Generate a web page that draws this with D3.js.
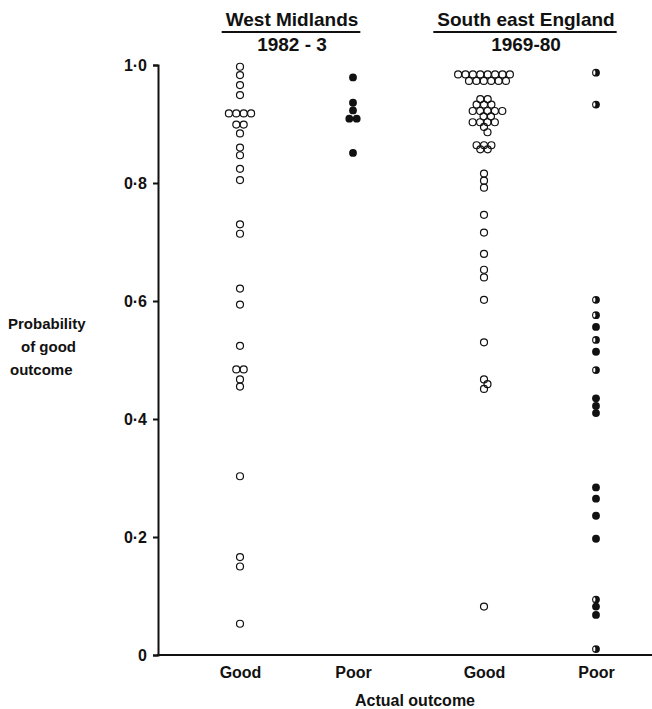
<!DOCTYPE html>
<html>
<head>
<meta charset="utf-8">
<script src="https://cdnjs.cloudflare.com/ajax/libs/d3/7.8.5/d3.min.js"></script>
<style>
body { margin: 0; background: #fff; }
text { font-family: "Liberation Sans", Arial, sans-serif; font-weight: bold; fill: #111; }
</style>
</head>
<body>
<div id="chart"></div>
<script>
var groups = ["wmGood", "wmPoor", "seGood", "sePoor"];
var groupLabels = ["Good", "Poor", "Good", "Poor"];
var yTicks = [0, 0.2, 0.4, 0.6, 0.8, 1.0];

// West Midlands 1982-3
var wmGood = [0.997, 0.983, 0.966, 0.949, 0.918, 0.918, 0.918, 0.918, 0.899, 0.899,
              0.884, 0.860, 0.847, 0.824, 0.805, 0.730, 0.714, 0.621, 0.594, 0.524,
              0.484, 0.484, 0.467, 0.455, 0.303, 0.166, 0.150, 0.053];
var wmPoor = [0.979, 0.936, 0.923, 0.909, 0.909, 0.851];

// South east England 1969-80
var seGood = [0.984, 0.984, 0.984, 0.984, 0.984, 0.984, 0.984, 0.984,
              0.973, 0.973, 0.973, 0.973, 0.973, 0.973,
              0.942, 0.942, 0.933, 0.933, 0.933, 0.922, 0.922, 0.922, 0.922, 0.922,
              0.913, 0.913, 0.903, 0.903, 0.903, 0.903, 0.895, 0.886,
              0.864, 0.864, 0.864, 0.857, 0.857, 0.816, 0.804, 0.792,
              0.746, 0.716, 0.680, 0.653, 0.640, 0.602, 0.530,
              0.467, 0.459, 0.451, 0.082];
var sePoorFilled = [0.556, 0.514, 0.435, 0.422, 0.410, 0.284, 0.265, 0.236, 0.197, 0.082, 0.068];
var sePoorHalf = [0.987, 0.933, 0.602, 0.576, 0.534, 0.483, 0.094, 0.010];

var fullwidth = 652,
    fullheight = 709;

var points = [];
wmGood.forEach(function(v){ points.push({group: "wmGood", value: v, kind: "open"}); });
wmPoor.forEach(function(v){ points.push({group: "wmPoor", value: v, kind: "filled"}); });
seGood.forEach(function(v){ points.push({group: "seGood", value: v, kind: "open"}); });
sePoorFilled.forEach(function(v){ points.push({group: "sePoor", value: v, kind: "filled"}); });
sePoorHalf.forEach(function(v){ points.push({group: "sePoor", value: v, kind: "half"}); });

var svg = d3.select("#chart")
    .append("svg")
    .attr("width", fullwidth)
    .attr("height", fullheight);

var yScale = d3.scaleLinear()
    .domain([0, 1])
    .range([655, 65]);

var xScale = d3.scaleOrdinal()
    .domain(groups)
    .range([240, 353, 484, 596]);

// simple swarm: equal values sit side by side, near values get nudged half a step
var step = 7.4;
function clash(dx, dy) {
    dx = Math.abs(dx); dy = Math.abs(dy);
    if (dy < 2) return dx < step - 0.1;
    if (dy < 6.8) return dx < 3.4;
    return false;
}
groups.forEach(function(g){
    var pts = points.filter(function(d){ return d.group == g; })
        .sort(function(a, b){ return b.value - a.value; });
    var rows = d3.groups(pts, function(d){ return d.value; });
    var placed = [];
    rows.forEach(function(r){
        var row = r[1], n = row.length, y = yScale(r[0]);
        for (var k = 0; k < 400; k++) {
            var c = k === 0 ? 0 : (k % 2 ? 1 : -1) * Math.ceil(k / 2) * 0.25;
            var xs = row.map(function(d, i){ return c + (i - (n - 1) / 2) * step; });
            var ok = xs.every(function(x){
                return placed.every(function(p){ return !clash(x - p.dx, y - p.y); });
            });
            if (ok) break;
        }
        row.forEach(function(d, i){
            d.dx = xs[i];
            d.y = y;
            placed.push(d);
        });
    });
});

// y axis
var yAxis = d3.axisLeft(yScale)
    .tickValues(yTicks)
    .tickSize(5)
    .tickPadding(6)
    .tickFormat(function(d){ return d === 0 ? "0" : d.toFixed(1).replace(".", "\u00b7"); });

var yAxisEle = svg.append("g")
    .classed("y axis", true)
    .attr("transform", "translate(158,0)")
    .call(yAxis);
yAxisEle.selectAll("path, line").attr("stroke", "#111").attr("stroke-width", 2);
yAxisEle.selectAll("text").style("font-size", "16px").attr("fill", "#111");

// x axis
var xAxis = d3.axisBottom(xScale)
    .tickSize(0)
    .tickPadding(12)
    .tickFormat(function(d, i){ return groupLabels[i]; });

var xAxisEle = svg.append("g")
    .classed("x axis", true)
    .attr("transform", "translate(0,655)")
    .call(xAxis);
xAxisEle.select(".domain").remove();
xAxisEle.selectAll("text").style("font-size", "16px").attr("fill", "#111");
xAxisEle.append("line")
    .attr("x1", 157).attr("x2", fullwidth)
    .attr("y1", 0).attr("y2", 0)
    .attr("stroke", "#111").attr("stroke-width", 2);

svg.append("text")
    .attr("x", 415).attr("y", 706)
    .style("text-anchor", "middle")
    .style("font-size", "16px")
    .text("Actual outcome");

var yLabel = svg.append("text").style("font-size", "15px");
yLabel.append("tspan").attr("x", 8).attr("y", 329).text("Probability");
yLabel.append("tspan").attr("x", 21).attr("y", 352).text("of good");
yLabel.append("tspan").attr("x", 10).attr("y", 375).text("outcome");

// panel headings
var headings = [
    {title: "West Midlands", years: "1982 - 3", cx: 292},
    {title: "South east England", years: "1969-80", cx: 526}
];
headings.forEach(function(h){
    var t = svg.append("text")
        .attr("x", h.cx).attr("y", 26)
        .style("text-anchor", "middle")
        .style("font-size", "19px")
        .text(h.title);
    var bb = t.node().getBBox();
    svg.append("line")
        .attr("x1", bb.x - 4).attr("x2", bb.x + bb.width + 2)
        .attr("y1", 32).attr("y2", 32)
        .attr("stroke", "#111").attr("stroke-width", 2);
    svg.append("text")
        .attr("x", h.cx).attr("y", 51)
        .style("text-anchor", "middle")
        .style("font-size", "19px")
        .text(h.years);
});

// points
var dotHolder = svg.append("g").classed("dot-holder", true);

dotHolder.selectAll("circle.open")
    .data(points.filter(function(d){ return d.kind == "open"; }))
    .enter().append("circle")
    .classed("open", true)
    .attr("cx", function(d){ return xScale(d.group) + d.dx; })
    .attr("cy", function(d){ return yScale(d.value); })
    .attr("r", 3.5)
    .attr("fill", "none")
    .attr("stroke", "#111")
    .attr("stroke-width", 1.2);

dotHolder.selectAll("circle.solid")
    .data(points.filter(function(d){ return d.kind != "open"; }))
    .enter().append("circle")
    .classed("solid", true)
    .attr("cx", function(d){ return xScale(d.group) + d.dx; })
    .attr("cy", function(d){ return yScale(d.value); })
    .attr("r", 3.9)
    .attr("fill", "#111");

dotHolder.selectAll("ellipse.half")
    .data(points.filter(function(d){ return d.kind == "half"; }))
    .enter().append("ellipse")
    .classed("half", true)
    .attr("cx", function(d){ return xScale(d.group) + d.dx - 1.7; })
    .attr("cy", function(d){ return yScale(d.value); })
    .attr("rx", 1.1)
    .attr("ry", 2.3)
    .attr("fill", "#fff");
</script>
</body>
</html>
